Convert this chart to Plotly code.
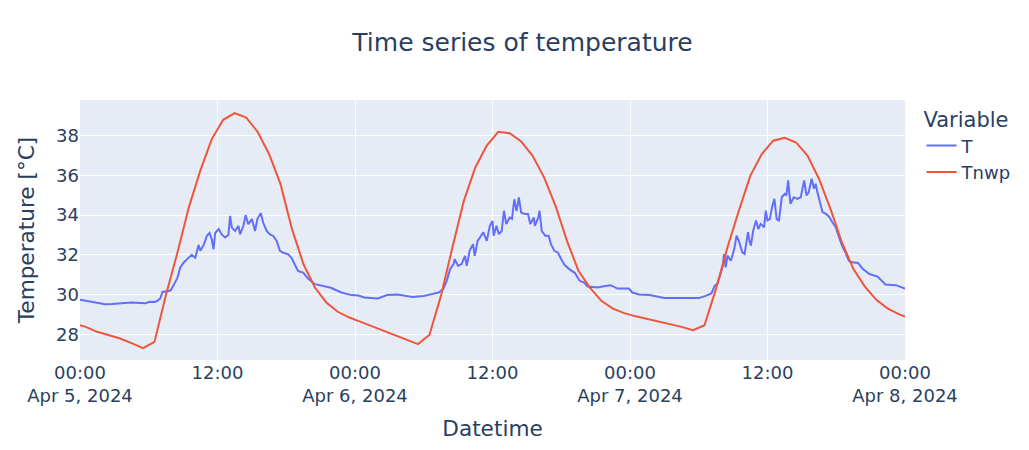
import pandas as pd
import plotly.graph_objects as go

start = pd.Timestamp("2024-04-05 00:00")

# Measured temperature T: hours since start and values [°C]
t_hours = [
    0.0, 0.5, 1.0, 1.5, 2.2, 2.8, 3.3, 3.9, 4.5, 5.1, 5.7, 6.1, 6.5, 6.7, 7.0, 7.2, 7.6, 7.9,
    8.2, 8.5, 8.75, 9.04, 9.33, 9.6, 9.75, 10.06, 10.35, 10.5, 10.8, 11.07, 11.3, 11.5, 11.65,
    11.8, 12.1, 12.4, 12.67, 12.95, 13.1, 13.25, 13.54, 13.83, 13.97, 14.26, 14.46, 14.68, 15.0,
    15.28, 15.48, 15.77, 16.0, 16.29, 16.58, 16.87, 17.16, 17.45, 17.74, 18.17, 18.46, 18.75,
    19.04, 19.48, 19.9, 20.5, 21.1, 21.9, 22.8, 23.7, 24.3, 24.8, 26.0, 26.8, 27.7, 29.0, 30.0,
    30.4, 30.7, 31.3, 31.7, 32.0, 32.3, 32.6, 32.7, 33.0, 33.3, 33.6, 33.75, 34.0, 34.3, 34.45,
    34.7, 34.9, 35.2, 35.5, 35.77, 36.0, 36.1, 36.35, 36.55, 36.8, 37.0, 37.2, 37.5, 37.7, 37.9,
    38.1, 38.3, 38.5, 38.8, 39.1, 39.3, 39.6, 39.7, 40.0, 40.1, 40.3, 40.6, 40.9, 41.1, 41.4,
    41.7, 42.0, 42.3, 42.7, 43.2, 43.6, 44.0, 44.3, 45.2, 45.6, 46.3, 46.9, 47.9, 48.2, 48.8,
    49.7, 51.0, 52.3, 54.0, 54.6, 55.1, 55.4, 55.6, 55.85, 56.1, 56.2, 56.35, 56.5, 56.8, 57.1,
    57.3, 57.5, 57.8, 58.0, 58.3, 58.45, 58.55, 58.75, 59.0, 59.2, 59.4, 59.7, 59.85, 60.0, 60.2,
    60.4, 60.6, 60.8, 61.0, 61.25, 61.5, 61.65, 61.8, 62.0, 62.3, 62.6, 62.9, 63.2, 63.4, 63.6,
    63.85, 64.06, 64.2, 64.35, 64.55, 64.8, 65.1, 65.4, 65.66, 65.95, 66.2, 66.5, 66.8, 67.1,
    67.4, 67.9, 68.3, 68.9, 69.6, 70.3, 71.2, 71.6, 72.0,
]
t_values = [
    29.73, 29.68, 29.63, 29.6, 29.51, 29.52, 29.53, 29.57, 29.6, 29.58, 29.56, 29.63, 29.62, 29.66,
    29.8, 30.13, 30.17, 30.2, 30.5, 30.84, 31.35, 31.6, 31.77, 31.94, 32.0, 31.85, 32.5, 32.2,
    32.5, 32.95, 33.1, 32.78, 32.28, 33.1, 33.3, 33.0, 32.87, 33.0, 33.96, 33.37, 33.2, 33.46,
    33.03, 33.46, 34.0, 33.54, 33.8, 33.2, 33.8, 34.1, 33.6, 33.2, 33.03, 32.95, 32.7, 32.2,
    32.1, 32.02, 31.85, 31.5, 31.18, 31.1, 30.8, 30.52, 30.44, 30.34, 30.1, 29.97, 29.95, 29.85,
    29.8, 29.97, 30.0, 29.87, 29.93, 30.0, 30.02, 30.1, 30.27, 30.69, 31.28, 31.53, 31.78, 31.44,
    31.53, 31.95, 31.44, 32.2, 32.54, 31.95, 32.7, 32.87, 33.13, 32.7, 33.46, 33.7, 32.96, 33.46,
    33.04, 33.2, 34.22, 33.55, 33.88, 33.8, 34.8, 34.2, 34.89, 34.13, 34.05, 34.05, 33.55, 33.88,
    33.46, 33.88, 34.22, 33.2, 32.96, 32.96, 32.54, 32.2, 32.12, 31.78, 31.48, 31.28, 31.08,
    30.69, 30.6, 30.4, 30.35, 30.4, 30.47, 30.3, 30.3, 30.1, 30.0, 29.97, 29.82, 29.82, 29.82,
    29.93, 30.05, 30.44, 30.52, 30.94, 31.45, 32.04, 31.37, 31.96, 31.7, 32.3, 32.97, 32.7, 32.12,
    32.04, 33.14, 32.63, 32.46, 33.22, 33.73, 33.3, 33.56, 33.39, 34.23, 33.73, 33.8, 34.4, 34.82,
    33.8, 33.73, 34.9, 35.07, 34.99, 35.75, 34.57, 34.9, 34.82, 34.9, 35.75, 34.99, 35.16, 35.83,
    35.33, 35.58, 35.16, 34.65, 34.15, 34.06, 33.9, 33.64, 33.39, 32.97, 32.46, 32.12, 31.7,
    31.62, 31.59, 31.3, 31.03, 30.9, 30.5, 30.47, 30.4, 30.3,
]

# Forecast temperature Tnwp: hours since start and values [°C]
tnwp_hours = [0.0] + [k + 0.5 for k in range(72)] + [72.0]
tnwp_values = [
    28.45, 28.37, 28.12, 27.95, 27.78, 27.55, 27.3, 27.61, 29.97, 32.1, 34.39, 36.24, 37.83,
    38.8, 39.14, 38.92, 38.2, 37.08, 35.56, 33.3, 31.53, 30.35, 29.6, 29.13, 28.84,
    28.62, 28.4, 28.17, 27.92, 27.7, 27.5, 27.97, 29.93, 32.37, 34.72, 36.4, 37.5, 38.2,
    38.13, 37.71, 36.99, 35.9, 34.47, 32.7, 31.2, 30.35, 29.68, 29.29, 29.06,
    28.9, 28.77, 28.64, 28.5, 28.37, 28.2, 28.45, 30.27, 32.37, 34.22, 35.98, 37.08, 37.75,
    37.9, 37.66, 36.99, 35.82, 34.3, 32.62, 31.28, 30.4, 29.73, 29.29, 29.0, 28.89,
]

t_time = [start + pd.Timedelta(hours=h) for h in t_hours]
tnwp_time = [start + pd.Timedelta(hours=h) for h in tnwp_hours]

fig = go.Figure()
fig.add_trace(go.Scatter(x=t_time, y=t_values, mode="lines", name="T",
                         line=dict(color="#636efa", width=2)))
fig.add_trace(go.Scatter(x=tnwp_time, y=tnwp_values, mode="lines", name="Tnwp",
                         line=dict(color="#EF553B", width=2)))

fig.update_layout(
    template="plotly",
    width=1029, height=450,
    font=dict(family="DejaVu Sans", size=18, color="#2a3f5f"),
    title=dict(text="Time series of temperature", x=0.5, xanchor="center",
               y=0.925, yanchor="middle", yref="container",
               font=dict(size=25)),
    legend=dict(title=dict(text="Variable", font=dict(size=21)), font=dict(size=18)),
    margin=dict(l=72, r=132, t=92, b=98),
    xaxis=dict(title=dict(text="Datetime", font=dict(size=21.6)),
               range=[start, start + pd.Timedelta(hours=72)]),
    yaxis=dict(title=dict(text="Temperature [°C]", font=dict(size=21.6)),
               range=[26.7, 39.8], dtick=2),
)

fig.write_html("out.html")
